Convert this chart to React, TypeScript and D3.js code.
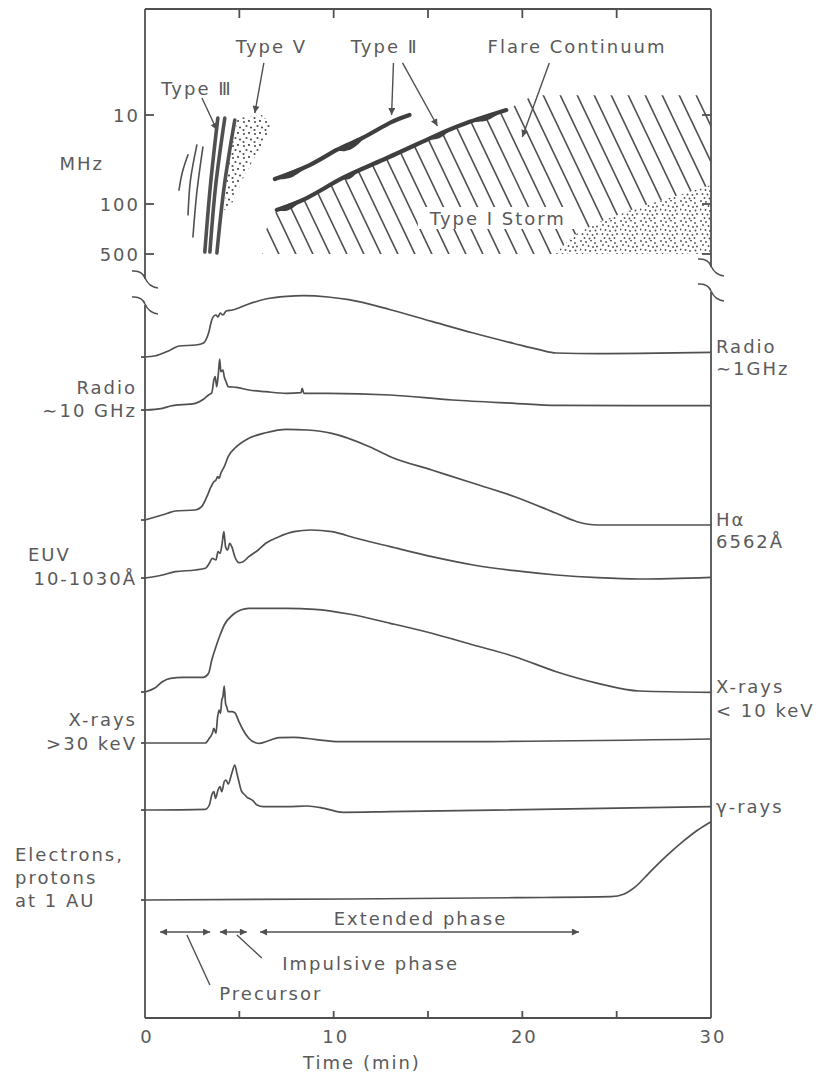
import React from "react";
import * as d3 from "d3";

type P = [number, number];

// ---------- axes ----------
const timeTickValues = [5, 10, 15, 20, 25];
const timeTickLabels = [0, 10, 20, 30];
const freqTickValues = [10, 100, 500];

// ---------- lower panel light curves: [time (min), relative intensity] ----------
const radio1GHz: P[] = [[0,0],[0.5,0.1],[1.35,0.7],[1.8,1.1],[2.7,1.2],[3.1,1.4],[3.37,2.4],[3.54,3.7],[3.65,4.1],[3.76,4.2],[3.87,4.0],[3.98,4.4],[4.13,4.2],[4.3,4.6],[4.64,4.7],[5.5,5.3],[6.4,5.8],[7.5,6.06],[8.4,6.13],[9.7,6.0],[10.8,5.73],[13.0,4.73],[15.2,3.56],[17.4,2.4],[19.6,1.33],[20.9,0.73],[21.8,0.4],[24.0,0.33],[26.2,0.36],[30,0.46]];
const radio10GHz: P[] = [[0,0],[0.92,0.17],[1.35,0.4],[2.66,0.67],[3.1,1.07],[3.37,1.5],[3.54,1.73],[3.65,3.0],[3.72,3.33],[3.8,2.33],[3.89,3.67],[3.96,5.1],[4.02,3.83],[4.13,4.0],[4.2,3.33],[4.3,2.83],[4.41,2.33],[4.85,2.27],[5.5,2.0],[6.4,1.83],[7.5,1.67],[8.27,1.73],[8.33,2.17],[8.42,1.67],[9.7,1.67],[13.0,1.5],[16.3,1.0],[19.6,0.67],[21.8,0.47],[26.2,0.43],[30,0.43]];
const hAlpha: P[] = [[0,0],[0.5,0.27],[1.2,0.67],[1.6,0.9],[2.66,1.0],[3.0,1.33],[3.28,2.33],[3.5,3.33],[3.65,3.83],[3.76,4.0],[3.85,4.33],[3.93,4.17],[4.02,4.67],[4.2,5.33],[4.41,6.33],[4.85,7.33],[5.5,8.17],[6.4,8.73],[7.5,9.07],[8.6,9.0],[9.9,8.67],[11.9,7.33],[13.0,6.33],[15.2,5.0],[17.4,3.67],[19.6,2.33],[21.8,0.67],[22.9,-0.17],[24.0,-0.5],[26.2,-0.5],[30,-0.5]];
const euv: P[] = [[0,0],[0.92,0.3],[1.6,0.63],[2.66,0.8],[3.2,0.97],[3.41,1.47],[3.57,1.97],[3.76,1.8],[3.87,2.63],[3.98,2.47],[4.09,3.47],[4.18,4.63],[4.27,3.13],[4.38,2.8],[4.49,3.47],[4.6,3.13],[4.76,2.13],[4.98,1.53],[5.2,1.63],[5.5,2.13],[6.0,2.8],[6.4,3.47],[7.1,4.13],[7.9,4.63],[8.8,4.8],[9.9,4.63],[11.2,3.97],[13.0,3.13],[15.2,2.13],[17.4,1.3],[19.6,0.73],[21.8,0.3],[24.0,0.03],[26.2,-0.1],[30,0.07]];
const xraysSoft: P[] = [[0,0],[0.5,0.37],[0.92,1.03],[1.35,1.37],[2.0,1.47],[3.1,1.47],[3.37,1.87],[3.54,3.2],[3.76,4.53],[3.98,5.7],[4.2,6.7],[4.64,7.7],[5.07,8.2],[5.5,8.37],[7.5,8.37],[9.0,8.27],[10.8,7.8],[13.0,6.87],[15.2,5.87],[17.4,4.7],[19.6,3.53],[21.8,2.03],[24.0,0.87],[26.2,0.1],[30,-0.03]];
const xraysHard: P[] = [[0,0],[3.2,0],[3.41,0.47],[3.57,0.97],[3.65,1.47],[3.76,0.97],[3.85,2.63],[3.93,3.3],[4.0,2.97],[4.07,4.3],[4.13,4.63],[4.2,5.7],[4.27,3.97],[4.33,3.63],[4.41,3.13],[4.6,3.13],[4.76,3.03],[4.98,2.13],[5.2,1.3],[5.5,0.47],[5.85,0.03],[6.07,-0.03],[6.4,0.13],[7.1,0.53],[7.9,0.57],[9.0,0.37],[10.3,0.13],[15.2,0.13],[30,0.4]];
const gammaRays: P[] = [[0,0],[3.2,0.07],[3.41,0.5],[3.54,1.5],[3.65,1.83],[3.74,1.17],[3.87,2.0],[3.98,2.33],[4.07,1.83],[4.2,2.83],[4.3,3.0],[4.41,2.6],[4.6,3.67],[4.76,4.5],[4.87,3.67],[4.98,2.83],[5.09,2.0],[5.2,1.67],[5.3,1.5],[5.41,1.27],[5.5,1.17],[5.72,0.93],[5.94,0.5],[6.27,0.33],[7.5,0.33],[8.6,0.4],[9.5,0.17],[10.5,-0.23],[13.0,-0.17],[30,0.33]];
const particles: P[] = [[0,0],[10.8,0.1],[19.6,0.23],[24.7,0.33],[25.4,0.6],[26.0,1.33],[26.7,2.67],[27.6,4.33],[28.5,5.83],[29.3,7.0],[30,7.83]];

// stacking offsets of the traces (panel units)
const traceBaselines = [66.1, 60.8, 49.8, 44.0, 32.6, 27.5, 20.8, 11.8];

// ---------- radio spectrum (time min, frequency MHz) ----------
const typeIIIBursts: P[][] = [
  [[1.8,70],[1.98,44],[2.28,28]],
  [[2.28,142],[2.41,54],[2.75,21.7]],
  [[2.54,289],[2.75,73],[3.07,22.9]],
  [[3.17,469],[3.47,61],[3.86,10.8]],
  [[3.44,469],[3.75,61],[4.23,10.8]],
  [[3.81,484],[4.2,63],[4.76,11.4]],
];
const typeIIIWidths = [1.6, 1.6, 1.6, 3.6, 3.6, 3.6];
const typeVRegion: P[] = [[4.92,10.8],[6.19,10],[6.72,12.9],[6.19,21.7],[5.29,47],[4.5,114],[4.18,121],[4.39,41.5],[4.66,19.1]];
const typeIIUpper: P[] = [[6.88,52.4],[8.73,36.5],[10.16,24.7],[11.53,18.1],[12.96,12.3],[14.02,10]];
const typeIILower: P[] = [[6.98,121],[8.57,85.7],[10.48,51],[12.59,32],[15.24,17.7],[17.04,12.3],[19.15,8.8]];
const typeIIBlobBand = [0, 0, 1, 1, 1, 1];
const typeIIBlobStart = [6.9, 10.1, 6.95, 10.4, 15.0, 17.3];
const typeIIBlobEnd = [8.6, 11.7, 8.3, 11.3, 16.2, 18.9];
const typeIIBlobSize = [5, 6, 5, 4, 4, 4];
const continuumTop: P[] = [[20.6, 6], [30, 6]];
const typeIStormEdge: P[] = [[30,61],[28.3,79],[26.2,110],[24.07,178],[22.75,271],[21.75,480]];

// ---------- phases ----------
const phaseNames = ["Precursor", "Impulsive phase", "Extended phase"];
const phaseStarts = [0.8, 3.97, 6.1];
const phaseEnds = [3.45, 5.4, 23.0];

const INK = "#505050";
const TEXT = "#5a5a5a";
const FONT = "'DejaVu Sans', 'Noto Sans', sans-serif";

// stipple texture (dot offsets within a tile)
const stormDots = [[1,1],[6,2],[11,0.5],[15,3],[3,5],[8.5,6],[13,7],[17,6.5],[0.5,9.5],[5.5,10],[10,11],[15.5,10.5],[2.5,14],[7.5,14.5],[12.5,15],[17,14],[4.5,18],[9.5,18.5],[14.5,18]];
const typeVDots = [[2,2],[7,1],[4.5,6],[9,7.5],[1.5,10]];

export default function App() {
  const x = d3.scaleLinear().domain([0, 30]).range([145, 711]);
  const yLow = d3.scaleLinear().domain([0, 72]).range([1018, 298]);
  const yF = d3.scaleLog().domain([10, 100, 500]).range([115, 204, 254]);

  const L = x(0), R = x(30);
  const TOP = 9, BOTTOM = yLow(0);

  const spec = d3.line<P>().x(d => x(d[0])).y(d => yF(d[1]));
  const specCurve = d3.line<P>().x(d => x(d[0])).y(d => yF(d[1])).curve(d3.curveNatural);

  const traces = [radio1GHz, radio10GHz, hAlpha, euv, xraysSoft, xraysHard, gammaRays, particles];
  const tracePaths = traces.map((data, i) =>
    d3.line<P>().x(d => x(d[0])).y(d => yLow(traceBaselines[i] + d[1])).curve(d3.curveMonotoneX)(data) as string
  );
  const endY = (i: number) => yLow(traceBaselines[i] + traces[i][traces[i].length - 1][1]);
  const baseY = (i: number) => yLow(traceBaselines[i]);

  const hatchPoly: P[] = [[6.2, 500], [6.35, 246], ...typeIILower, ...continuumTop, ...typeIStormEdge, [21.75, 500]];
  const stormPoly: P[] = [...typeIStormEdge, [21.75, 500], [30, 500]];

  const bands = [typeIIUpper, typeIILower];
  const blobs = typeIIBlobBand.map((b, i) => {
    const band = bands[b];
    const yAt = d3.scaleLinear().domain(band.map(d => d[0])).range(band.map(d => yF(d[1])));
    const t0 = typeIIBlobStart[i], t1 = typeIIBlobEnd[i];
    const ts = d3.range(13).map(k => t0 + (t1 - t0) * k / 12);
    return d3.area<number>().x(t => x(t)).y0(t => yAt(t) - 1.5)
      .y1(t => yAt(t) + typeIIBlobSize[i] * Math.sin(Math.PI * (t - t0) / (t1 - t0)))
      .curve(d3.curveBasis)(ts) as string;
  });

  const hatchStep = 17, hatchSlope = 2.1;
  const hatch = d3.range(-14, 40).map(i => {
    const x0 = L + i * hatchStep;
    return `M${x0},80L${x0 + (262 - 80) / hatchSlope},262`;
  });

  const txt = (s: string, px: number, py: number, anchor: string = "middle", key?: string) => (
    <text key={key ?? s + px + py} x={px} y={py} textAnchor={anchor} dominantBaseline="central"
      fontFamily={FONT} fontSize={18} letterSpacing={2} fill={TEXT}>{s}</text>
  );

  const squiggle = (cx: number, cy: number) =>
    `M${cx - 13},${cy - 8} Q${cx - 3},${cy - 9} ${cx},${cy - 1} Q${cx + 4},${cy + 8} ${cx + 13},${cy + 9}`;

  const arrow = (a: P, b: P, key: string) => (
    <line key={key} x1={x(a[0])} y1={yF(a[1])} x2={x(b[0])} y2={yF(b[1])} stroke={INK} strokeWidth={1.4} markerEnd="url(#head)" />
  );

  const phaseY = yLow(8.6);

  return (
    <svg width={821} height={1077} style={{ position: "absolute", left: 0, top: 0, background: "#fff" }}>
      <defs>
        <marker id="head" viewBox="0 0 10 10" refX={10} refY={5} markerWidth={10} markerHeight={7}
          markerUnits="userSpaceOnUse" orient="auto-start-reverse">
          <path d="M0,0 L10,5 L0,10 Z" fill={INK} />
        </marker>
        <clipPath id="hatchClip"><path d={spec(hatchPoly) + "Z"} /></clipPath>
        <pattern id="dotsI" width={20} height={20} patternUnits="userSpaceOnUse">
          {stormDots.map((p, i) => <circle key={i} cx={p[0]} cy={p[1]} r={0.95} fill={INK} />)}
        </pattern>
        <pattern id="dotsV" width={11} height={12} patternUnits="userSpaceOnUse">
          {typeVDots.map((p, i) => <circle key={i} cx={p[0]} cy={p[1]} r={1.1} fill={INK} />)}
        </pattern>
      </defs>

      {/* ---------- frames ---------- */}
      <g stroke={INK} strokeWidth={1.8} fill="none">
        <line x1={L} y1={TOP} x2={R} y2={TOP} />
        <line x1={L} y1={TOP} x2={L} y2={279} />
        <line x1={R} y1={TOP} x2={R} y2={267} />
        <line x1={L} y1={305} x2={L} y2={BOTTOM} />
        <line x1={R} y1={292} x2={R} y2={BOTTOM} />
        <line x1={L} y1={BOTTOM} x2={R} y2={BOTTOM} />
        <path d={squiggle(L, 279)} strokeWidth={1.5} />
        <path d={squiggle(L, 305)} strokeWidth={1.5} />
        <path d={squiggle(R, 267)} strokeWidth={1.5} />
        <path d={squiggle(R, 292)} strokeWidth={1.5} />
        {timeTickValues.map(t => <line key={"tt" + t} x1={x(t)} y1={TOP} x2={x(t)} y2={TOP + 9} />)}
        {timeTickValues.map(t => <line key={"bt" + t} x1={x(t)} y1={BOTTOM} x2={x(t)} y2={BOTTOM - 7} />)}
        {freqTickValues.map(f => <line key={"lf" + f} x1={L} y1={yF(f)} x2={L + 9} y2={yF(f)} />)}
        {freqTickValues.map(f => <line key={"rf" + f} x1={R} y1={yF(f)} x2={R - 9} y2={yF(f)} />)}
        {traceBaselines.map((b, i) => <line key={"bl" + i} x1={L - 4} y1={baseY(i)} x2={L} y2={baseY(i)} />)}
      </g>

      {/* ---------- radio spectrum ---------- */}
      <g clipPath="url(#hatchClip)" stroke={INK} strokeWidth={1.6}>
        {hatch.map((d, i) => <path key={i} d={d} />)}
      </g>
      <path d={spec(stormPoly) + "Z"} fill="url(#dotsI)" />
      <path d={spec(typeVRegion) + "Z"} fill="url(#dotsV)" />
      {typeIIIBursts.map((b, i) => (
        <path key={"t3" + i} d={specCurve(b) as string} fill="none" stroke={INK} strokeWidth={typeIIIWidths[i]} strokeLinecap="round" />
      ))}
      {bands.map((b, i) => (
        <path key={"t2" + i} d={specCurve(b) as string} fill="none" stroke="#3f3f3f" strokeWidth={4.2} strokeLinecap="round" />
      ))}
      {blobs.map((d, i) => <path key={"bl" + i} d={d} fill="#3f3f3f" />)}

      <rect x={x(18.7) - 80} y={yF(157) - 11} width={160} height={22} fill="#fff" />
      {txt("Type I Storm", x(18.7), yF(157))}

      {txt("Type Ⅲ", x(2.75), yF(4.98))}
      {arrow([3.02, 6.44], [3.81, 14.75], "a3")}
      {txt("Type Ⅴ", x(6.7), yF(1.72))}
      {arrow([6.3, 2.6], [5.82, 9.5], "a5")}
      {txt("Type Ⅱ", x(12.7), yF(1.72))}
      {arrow([13.17, 2.6], [13.07, 10], "a2a")}
      {arrow([13.65, 2.6], [15.5, 13.3], "a2b")}
      {txt("Flare Continuum", x(22.9), yF(1.72))}
      {arrow([21.43, 2.6], [20.0, 17.7], "afc")}

      {freqTickValues.map(f => txt(String(f), 140, yF(f), "end", "fl" + f))}
      {txt("MHz", 104, 163, "end")}

      {/* ---------- light curves ---------- */}
      {tracePaths.map((d, i) => <path key={"tr" + i} d={d} fill="none" stroke={INK} strokeWidth={1.7} />)}

      {txt("Radio", 137, baseY(1) - 23, "end")}
      {txt("∼10 GHz", 137, baseY(1), "end")}
      {txt("EUV", 28, baseY(3) - 24, "start")}
      {txt("10-1030Å", 137, baseY(3), "end")}
      {txt("X-rays", 137, baseY(5) - 24, "end")}
      {txt(">30 keV", 137, baseY(5), "end")}
      {txt("Electrons,", 15, baseY(7) - 46, "start")}
      {txt("protons", 15, baseY(7) - 23, "start")}
      {txt("at 1 AU", 15, baseY(7), "start")}

      {txt("Radio", 716, endY(0) - 6, "start")}
      {txt("∼1GHz", 716, endY(0) + 16, "start")}
      {txt("Hα", 716, endY(2) - 6, "start")}
      {txt("6562Å", 716, endY(2) + 16, "start")}
      {txt("X-rays", 716, endY(4) - 6, "start")}
      {txt("< 10 keV", 716, endY(4) + 18, "start")}
      {txt("γ-rays", 716, endY(6), "start")}

      {/* ---------- phases ---------- */}
      {phaseNames.map((n, i) => (
        <line key={"ph" + i} x1={x(phaseStarts[i])} y1={phaseY} x2={x(phaseEnds[i])} y2={phaseY}
          stroke={INK} strokeWidth={1.4} markerStart="url(#head)" markerEnd="url(#head)" />
      ))}
      {txt(phaseNames[2], x(14.6), yLow(10.0))}
      <line x1={x(4.87)} y1={yLow(8.3)} x2={x(6.19)} y2={yLow(6.0)} stroke={INK} strokeWidth={1.4} />
      {txt(phaseNames[1], x(11.96), yLow(5.5))}
      <line x1={x(2.22)} y1={yLow(8.3)} x2={x(3.44)} y2={yLow(3.3)} stroke={INK} strokeWidth={1.4} />
      {txt(phaseNames[0], x(6.67), yLow(2.5))}

      {/* ---------- time axis labels ---------- */}
      {timeTickLabels.map(t => txt(String(t), x(t) + 2, BOTTOM + 18, "middle", "xl" + t))}
      {txt("Time (min)", 362, BOTTOM + 44)}
    </svg>
  );
}
